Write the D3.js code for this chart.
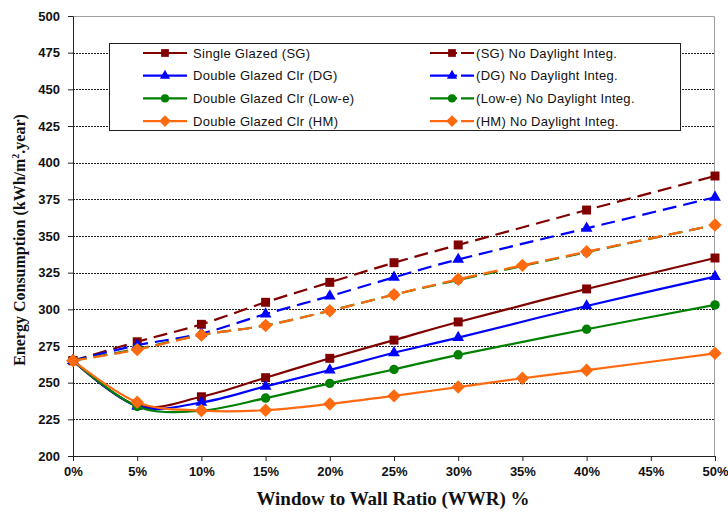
<!DOCTYPE html>
<html>
<head>
<meta charset="utf-8">
<script src="https://cdn.jsdelivr.net/npm/d3@7.9.0/dist/d3.min.js"></script>
<style>
  body { margin: 0; background: #fff; }
  svg { display: block; }
  .tick text { font-family: "Liberation Sans", Arial, sans-serif; font-weight: bold; font-size: 13px; fill: #111; }
  .axis-title { font-family: "Liberation Serif", "Times New Roman", serif; font-weight: bold; fill: #111; }
  .legend text { font-family: "Liberation Sans", Arial, sans-serif; font-size: 13px; letter-spacing: 0.3px; fill: #111; }
</style>
</head>
<body>
<svg width="728" height="512"></svg>
<script>
// WWR (%) values
const wwr = [0, 5, 10, 15, 20, 25, 30, 40, 50];
const wwrHM = [0, 5, 10, 15, 20, 25, 30, 35, 40, 50];

// energy consumption, kWh/m2.year
const sgValues = [265, 234.5, 240.4, 253.4, 266.6, 279, 291.4, 313.9, 335];
const dgValues = [265, 234, 236.5, 247.5, 258.6, 270.4, 280.7, 302.3, 322.3];
const loweValues = [265, 233.8, 231, 239.5, 249.5, 259, 269, 286.4, 303];
const hmValues = [265, 236.6, 231, 231.2, 235.5, 241, 247, 253, 258.5, 270];

const sgNoDl = [265, 277.9, 289.8, 304.8, 318.4, 331.8, 343.9, 367.7, 390.9];
const dgNoDl = [265, 275.5, 283.5, 296.8, 309, 321.8, 334, 355.2, 376.4];
const loweNoDl = [265, 273, 282.5, 289, 299, 310, 320, 339, 357.5];
const hmNoDl = [265, 272.5, 282.5, 289, 299, 310, 320.5, 330, 339.3, 357.5];

const yTicks = d3.range(200, 501, 25);
const xTicks = d3.range(0, 51, 5);

// square-ish diamond (rotated square)
const symbolDiamondSq = {
  draw(context, size) {
    const r = Math.sqrt(size / 2);
    context.moveTo(0, -r);
    context.lineTo(r, 0);
    context.lineTo(0, r);
    context.lineTo(-r, 0);
    context.closePath();
  }
};

const series = [
  { name: 'Single Glazed (SG)', x: wwr, y: sgValues, color: '#800000', symbol: d3.symbolSquare, size: 80, dashed: false },
  { name: 'Double Glazed Clr (DG)', x: wwr, y: dgValues, color: '#0000ff', symbol: d3.symbolTriangle, size: 60, dashed: false },
  { name: 'Double Glazed Clr (Low-e)', x: wwr, y: loweValues, color: '#008000', symbol: d3.symbolCircle, size: 70, dashed: false },
  { name: 'Double Glazed Clr (HM)', x: wwrHM, y: hmValues, color: '#ff6a10', symbol: symbolDiamondSq, size: 90, dashed: false },
  { name: '(SG) No Daylight Integ.', x: wwr, y: sgNoDl, color: '#800000', symbol: d3.symbolSquare, size: 80, dashed: true },
  { name: '(DG) No Daylight Integ.', x: wwr, y: dgNoDl, color: '#0000ff', symbol: d3.symbolTriangle, size: 60, dashed: true },
  { name: '(Low-e) No Daylight Integ.', x: wwr, y: loweNoDl, color: '#008000', symbol: d3.symbolCircle, size: 70, dashed: true },
  { name: '(HM) No Daylight Integ.', x: wwrHM, y: hmNoDl, color: '#ff6a10', symbol: symbolDiamondSq, size: 90, dashed: true },
];

const margin = { top: 16, right: 13, bottom: 56, left: 73 };
const svg = d3.select('svg');
const width = 728 - margin.left - margin.right;
const height = 512 - margin.top - margin.bottom;
const g = svg.append('g').attr('transform', `translate(${margin.left},${margin.top})`);

const x = d3.scaleLinear().domain([0, 50]).range([0, width]);
const y = d3.scaleLinear().domain([200, 500]).range([height, 0]);

// frame (top and right, grey)
g.append('path')
  .attr('d', `M0,0.5H${width - 0.5}V${height}`)
  .attr('fill', 'none')
  .attr('stroke', '#a0a0a0')
  .attr('stroke-width', 1);

// dotted gridlines
g.selectAll('.grid')
  .data(yTicks.filter((d) => d > 200 && d < 500))
  .join('line')
  .attr('x1', 0)
  .attr('x2', width)
  .attr('y1', (d) => Math.round(y(d)) + 0.5)
  .attr('y2', (d) => Math.round(y(d)) + 0.5)
  .attr('stroke', '#222')
  .attr('stroke-width', 1)
  .attr('stroke-dasharray', '2,1');

// axes
const yAxis = g.append('g')
  .call(d3.axisLeft(y).tickValues(yTicks).tickSize(5).tickPadding(8));
const xAxis = g.append('g')
  .attr('transform', `translate(0,${height})`)
  .call(d3.axisBottom(x).tickValues(xTicks).tickSize(5).tickPadding(6).tickFormat((d) => d + '%'));
[yAxis, xAxis].forEach((a) => {
  a.select('.domain').attr('stroke', '#222');
  a.selectAll('.tick line').attr('stroke', '#222');
});

// lines
const line = (s) => d3.line()
  .x((d, i) => x(s.x[i]))
  .y((d) => y(d))
  .curve(d3.curveCardinal.tension(0));

const drawOrder = [4, 5, 6, 7, 0, 1, 2, 3];
drawOrder.forEach((idx) => {
  const s = series[idx];
  g.append('path')
    .datum(s.y)
    .attr('d', line(s))
    .attr('fill', 'none')
    .attr('stroke', s.color)
    .attr('stroke-width', 2.2)
    .attr('stroke-dasharray', s.dashed ? '14,7' : null);
  g.selectAll(null)
    .data(s.y)
    .join('path')
    .attr('transform', (d, i) => `translate(${x(s.x[i])},${y(d)})`)
    .attr('d', d3.symbol().type(s.symbol).size(s.size))
    .attr('fill', s.color);
});

// legend
const legend = svg.append('g').attr('class', 'legend');
legend.append('rect')
  .attr('x', 109.5).attr('y', 43.5)
  .attr('width', 571).attr('height', 87)
  .attr('fill', '#fff')
  .attr('stroke', '#222');

series.forEach((s, i) => {
  const col = s.dashed ? 1 : 0;
  const row = i % 4;
  const lx = col ? 430 : 143;
  const ly = 53 + row * 22.7;
  const item = legend.append('g').attr('transform', `translate(${lx},${ly})`);
  if (s.dashed) {
    item.append('line').attr('x1', 0).attr('x2', 44).attr('y1', 0).attr('y2', 0)
      .attr('stroke', s.color).attr('stroke-width', 2.2).attr('stroke-dasharray', '27,4');
  } else {
    item.append('line').attr('x1', 0).attr('x2', 44).attr('y1', 0).attr('y2', 0)
      .attr('stroke', s.color).attr('stroke-width', 2.2);
  }
  item.append('path')
    .attr('transform', 'translate(22,0)')
    .attr('d', d3.symbol().type(s.symbol).size(s.size * 0.75))
    .attr('fill', s.color);
  item.append('text')
    .attr('x', col ? 46 : 50)
    .attr('y', 4.5)
    .text(s.name);
});

// axis titles
svg.append('text')
  .attr('class', 'axis-title')
  .attr('font-size', 16)
  .attr('text-anchor', 'middle')
  .attr('transform', `translate(25,240) rotate(-90)`)
  .html('Energy Consumption (kWh/m<tspan dy="-6" font-size="10">2</tspan><tspan dy="6">.year)</tspan>');

svg.append('text')
  .attr('class', 'axis-title')
  .attr('font-size', 19)
  .attr('text-anchor', 'middle')
  .attr('x', 393)
  .attr('y', 505)
  .text('Window to Wall Ratio (WWR) %');
</script>
</body>
</html>
